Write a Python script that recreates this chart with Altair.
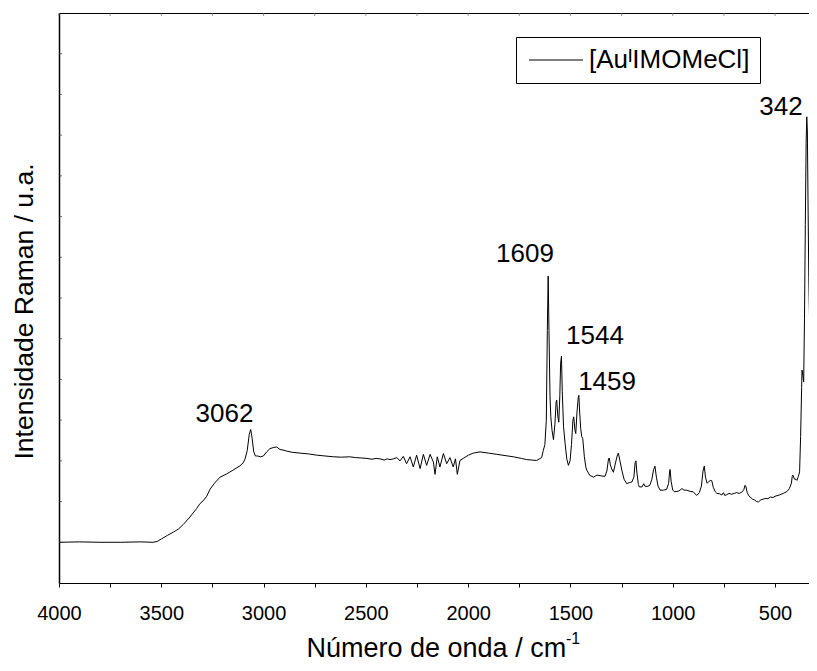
import altair as alt
import pandas as pd

# ---------------- data ----------------
wavenumber = [
    4000, 3900, 3800, 3700, 3600, 3540, 3520, 3500, 3470, 3441, 3415, 3392, 3360, 3327, 3311,
    3295, 3278, 3262, 3240, 3213, 3180, 3150, 3115, 3100, 3091, 3080, 3070, 3063, 3056, 3048,
    3040, 3030, 3015, 3001, 2985, 2969, 2950, 2936, 2920, 2900, 2887, 2860, 2821, 2780, 2740,
    2700, 2658, 2620, 2580, 2550, 2520, 2495, 2470, 2450, 2431, 2410, 2395, 2382, 2365, 2349,
    2333, 2317, 2301, 2284, 2268, 2252, 2235, 2219, 2203, 2186, 2170, 2162, 2151, 2138, 2121,
    2105, 2089, 2073, 2062, 2053, 2040, 2024, 1999, 1975, 1942, 1900, 1860, 1820, 1779, 1740,
    1714, 1690, 1665, 1641, 1633, 1625, 1618, 1613, 1609, 1605, 1600, 1596, 1590, 1583, 1576,
    1570, 1567, 1562, 1557, 1552, 1548, 1544, 1540, 1534, 1526, 1518, 1510, 1502, 1495, 1488,
    1484, 1478, 1474, 1468, 1462, 1459, 1455, 1450, 1445, 1440, 1432, 1425, 1420, 1405, 1395,
    1388, 1370, 1350, 1331, 1322, 1314, 1310, 1305, 1298, 1290, 1280, 1270, 1266, 1258, 1248,
    1238, 1225, 1210, 1200, 1190, 1184, 1180, 1175, 1168, 1163, 1150, 1142, 1136, 1125, 1112,
    1102, 1094, 1087, 1080, 1072, 1062, 1045, 1030, 1020, 1015, 1013, 1008, 1000, 990, 970,
    955, 945, 932, 915, 900, 883, 870, 860, 852, 846, 840, 832, 822, 814, 809,
    802, 792, 784, 770, 760, 752, 746, 736, 725, 712, 700, 688, 675, 660, 652,
    647, 643, 636, 628, 622, 610, 600, 590, 581, 570, 558, 545, 535, 523, 510,
    500, 480, 460, 441, 430, 420, 416, 413, 405, 398, 393, 386, 380, 375, 370,
    368, 364, 360, 356, 352, 348, 345, 342, 339, 335, 331, 328, 324, 321, 316,
    312, 308, 302, 297, 292,
]
intensity = [
    1.00, 1.01, 1.00, 1.00, 1.01, 1.00, 1.02, 1.08, 1.17, 1.25, 1.33, 1.44, 1.62, 1.83, 1.95,
    2.02, 2.13, 2.30, 2.45, 2.60, 2.68, 2.77, 2.88, 2.95, 3.04, 3.25, 3.65, 3.77, 3.55, 3.22,
    3.12, 3.12, 3.10, 3.12, 3.22, 3.30, 3.33, 3.34, 3.28, 3.26, 3.24, 3.21, 3.19, 3.17, 3.14,
    3.12, 3.10, 3.09, 3.10, 3.08, 3.07, 3.06, 3.04, 3.06, 3.05, 3.02, 3.05, 3.03, 3.05, 3.08,
    3.00, 3.11, 2.93, 3.10, 2.85, 3.14, 2.81, 3.16, 2.89, 3.16, 2.97, 2.67, 3.10, 2.85, 3.18,
    2.93, 3.08, 2.85, 3.05, 2.67, 3.01, 3.06, 3.14, 3.19, 3.22, 3.19, 3.16, 3.13, 3.10, 3.06,
    3.03, 3.02, 3.01, 3.08, 3.25, 3.40, 4.00, 6.20, 7.54, 6.20, 4.60, 4.08, 3.75, 3.52, 3.90,
    4.45, 4.49, 4.10, 3.95, 4.60, 5.40, 5.57, 4.70, 3.85, 3.42, 3.05, 2.89, 3.00, 3.40, 4.00,
    4.08, 3.75, 3.67, 4.20, 4.55, 4.61, 4.20, 3.80, 3.60, 3.55, 3.10, 2.85, 2.77, 2.64, 2.62,
    2.60, 2.65, 2.63, 2.62, 2.75, 3.05, 3.07, 2.90, 2.80, 2.72, 2.95, 3.15, 3.19, 3.00, 2.75,
    2.55, 2.44, 2.47, 2.48, 2.60, 2.95, 3.00, 2.70, 2.42, 2.36, 2.36, 2.44, 2.38, 2.37, 2.40,
    2.55, 2.78, 2.87, 2.60, 2.38, 2.28, 2.28, 2.30, 2.45, 2.76, 2.79, 2.50, 2.28, 2.24, 2.26,
    2.32, 2.28, 2.28, 2.25, 2.24, 2.15, 2.22, 2.38, 2.75, 2.87, 2.60, 2.45, 2.50, 2.52, 2.51,
    2.35, 2.24, 2.20, 2.19, 2.16, 2.22, 2.15, 2.17, 2.20, 2.18, 2.20, 2.22, 2.20, 2.24, 2.30,
    2.40, 2.38, 2.22, 2.14, 2.11, 2.06, 2.04, 2.00, 1.99, 2.04, 2.06, 2.08, 2.07, 2.11, 2.10,
    2.13, 2.16, 2.20, 2.25, 2.32, 2.45, 2.62, 2.65, 2.55, 2.55, 2.52, 2.62, 2.73, 3.60, 4.80,
    5.23, 5.10, 4.94, 6.50, 8.80, 10.80, 11.45, 11.10, 9.50, 7.50, 6.40, 6.13, 5.90, 5.60, 4.70,
    4.05, 3.67, 3.85, 4.10, 4.32,
]

series_name = "[Au\u1d35IMOMeCl]"

peak_labels = ["3062", "1609", "1544", "1459", "342"]
peak_label_x = [3191, 1722, 1380, 1321, 471]
peak_label_y = [3.95, 7.89, 5.86, 4.75, 11.49]

x_tick_values = [4000, 3750, 3500, 3250, 3000, 2750, 2500, 2250, 2000,
                 1750, 1500, 1250, 1000, 750, 500]
y_tick_values = [1, 2, 3, 4, 5, 6, 7, 8, 9, 10, 11, 12, 13]

x_title = "Número de onda / cm"
x_title_sup = ["-1"]
y_title = "Intensidade Raman / u.a."

FONT = "Liberation Sans"

# ---------------- chart ----------------
spec_df = pd.DataFrame({"wn": wavenumber, "I": intensity, "serie": series_name})
peaks_df = pd.DataFrame({"label": peak_labels, "wn": peak_label_x, "I": peak_label_y})
ytick_df = pd.DataFrame({"v": y_tick_values})
xtick_df = pd.DataFrame({"t": x_tick_values})
sup_df = pd.DataFrame({"s": x_title_sup})

x_scale = alt.Scale(domain=[4000, 334], nice=False, zero=False)
y_scale = alt.Scale(domain=[0, 14], nice=False, zero=False)

line = alt.Chart(spec_df).mark_line(strokeWidth=1, clip=True).encode(
    x=alt.X("wn:Q", scale=x_scale, axis=alt.Axis(
        orient="bottom", values=x_tick_values, format="d",
        labelExpr="datum.value % 500 == 0 ? datum.label : ''",
        labelFlush=False, labelOverlap=False,
        grid=False, tickSize=4, tickColor="black", tickWidth=1,
        domainColor="black", domainWidth=1,
        labelFont=FONT, labelFontSize=20, labelColor="black", labelPadding=16,
        title=x_title, titleFont=FONT, titleFontSize=27, titleFontWeight="normal",
        titleColor="black", titleAlign="left", titleBaseline="alphabetic",
        titleX=247, titleY=73, titleAngle=0,
    )),
    y=alt.Y("I:Q", scale=y_scale, axis=alt.Axis(
        orient="left", labels=False, ticks=False, grid=False,
        domainColor="black", domainWidth=1.5,
        title=y_title, titleFont=FONT, titleFontSize=26.5, titleFontWeight="normal",
        titleColor="black", titleAngle=-90, titleAlign="center",
        titleBaseline="alphabetic", titleX=-27, titleY=298,
    )),
    color=alt.Color("serie:N", scale=alt.Scale(range=["black"]), legend=alt.Legend(
        orient="none", legendX=457, legendY=24, title=None,
        strokeColor="black", padding=10,
        symbolType="M-1,0H4.4", symbolSize=400, symbolStrokeWidth=1,
        labelFont=FONT, labelFontSize=26, labelColor="black", labelOffset=37,
        labelLimit=400,
    )),
)

top_axis = alt.Chart(xtick_df).mark_tick(
    orient="vertical", size=3, thickness=1, color="#666"
).encode(
    x=alt.X("t:Q", scale=x_scale, axis=alt.Axis(
        orient="top", labels=False, ticks=False, grid=False, title=None,
        domainColor="black", domainWidth=1)),
    y=alt.value(1.5),
)

left_ticks = alt.Chart(ytick_df).mark_tick(
    orient="horizontal", size=3, thickness=1, color="#333"
).encode(
    y=alt.Y("v:Q", scale=y_scale, axis=None),
    x=alt.value(1.5),
)

peak_text = alt.Chart(peaks_df).mark_text(
    font=FONT, fontSize=26, align="center", baseline="alphabetic", color="black"
).encode(
    x=alt.X("wn:Q", scale=x_scale, axis=None),
    y=alt.Y("I:Q", scale=y_scale, axis=None),
    text="label:N",
)

sup_text = alt.Chart(sup_df).mark_text(
    font=FONT, fontSize=16, align="left", baseline="alphabetic", color="black"
).encode(
    x=alt.value(507),
    y=alt.value(631),
    text="s:N",
)

chart = alt.layer(line, top_axis, left_ticks, peak_text, sup_text).resolve_axis(
    x="independent", y="independent"
).properties(
    width=750, height=570,
    autosize=alt.AutoSizeParams(type="none"),
    padding={"left": 51, "top": 5, "right": 0, "bottom": 80},
).configure_view(stroke=None)

chart.save("out.html", embed_options={"renderer": "svg", "actions": False})
